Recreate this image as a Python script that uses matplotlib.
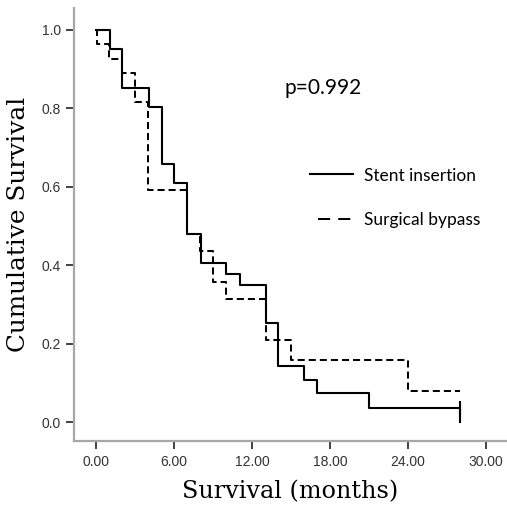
import matplotlib
matplotlib.use("Agg")
import matplotlib.pyplot as plt
from matplotlib.lines import Line2D

# Kaplan-Meier steps
stent_t = [0, 1.08, 2.0, 4.08, 5.05, 6.0, 7.0, 8.05, 10.0, 11.08, 13.08, 14.0, 16.0, 17.0, 21.0, 28.0]
stent_s = [1.0, 0.95, 0.852, 0.804, 0.659, 0.609, 0.48, 0.405, 0.378, 0.349, 0.254, 0.145, 0.109, 0.075, 0.037, 0.0]

bypass_t = [0, 0.05, 1.0, 2.0, 3.0, 3.97, 7.0, 8.0, 9.0, 10.0, 13.08, 15.0, 24.0, 28.0]
bypass_s = [1.0, 0.963, 0.926, 0.889, 0.815, 0.593, 0.481, 0.437, 0.357, 0.315, 0.21, 0.158, 0.079, 0.079]

# censored observation
cens_t = [28.0]
cens_s = [0.037]

xticks = [0, 6, 12, 18, 24, 30]
yticks = [0.0, 0.2, 0.4, 0.6, 0.8, 1.0]

plt.rcParams["font.family"] = ["Liberation Sans", "DejaVu Sans"]

fig = plt.figure(figsize=(5.07, 5.09), dpi=100)
ax = fig.add_axes([0.146, 0.133, 0.854, 0.851])

ax.step(stent_t, stent_s, where="post", color="black", lw=1.5)
ax.step(bypass_t, bypass_s, where="post", color="black", lw=1.45, linestyle=(0, (3.5, 2)))
ax.plot(cens_t, cens_s, linestyle="none", marker="|", markersize=10, mew=1.5, color="black")

ax.set_xlim(-1.69, 31.6)
ax.set_ylim(-0.048, 1.055)
ax.set_xticks(xticks)
ax.set_xticklabels([f"{v:.2f}" for v in xticks])
ax.set_yticks(yticks)
ax.set_yticklabels([f"{v:.1f}" for v in yticks])

for s in ["top", "right"]:
    ax.spines[s].set_visible(False)
for s in ["left", "bottom"]:
    ax.spines[s].set_color("#a8a8a8")
    ax.spines[s].set_linewidth(1.6)

ax.tick_params(axis="both", direction="out", length=6, width=1.3, color="#333333",
               labelsize=10, labelcolor="#333333")
ax.tick_params(axis="x", pad=4)

ax.set_xlabel("Survival (months)", family="DejaVu Serif", fontsize=17.2, labelpad=8)
ax.set_ylabel("Cumulative Survival", family="DejaVu Serif", fontsize=17.8, labelpad=8)

ax.text(14.5, 0.851, "p=0.992", family="Lato", fontsize=15, va="center", ha="left")

handles = [
    Line2D([], [], color="black", lw=1.5),
    Line2D([], [], color="black", lw=1.45, linestyle=(6, (6, 4))),
]
ax.legend(handles, ["Stent insertion", "Surgical bypass"], loc="upper left",
          bbox_to_anchor=(0.545, 0.632), frameon=False, prop={"family": "Lato", "size": 12.5},
          handlelength=2.5, handletextpad=0.6, labelspacing=1.65, borderpad=0, borderaxespad=0)

fig.savefig("out.png", dpi=100)
